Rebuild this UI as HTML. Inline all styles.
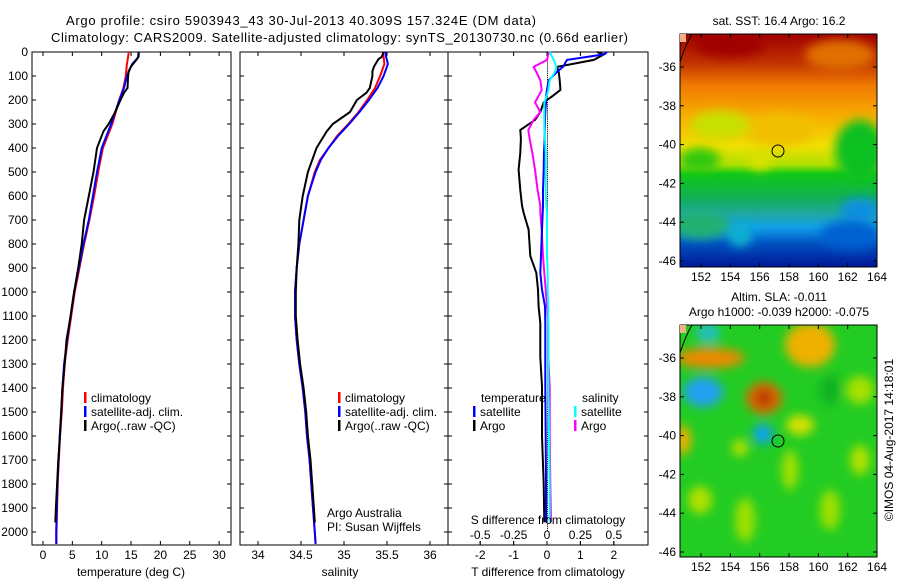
<!DOCTYPE html>
<html><head><meta charset="utf-8"><style>
html,body{margin:0;padding:0;background:#fff;}
svg{display:block;font-family:"Liberation Sans",sans-serif;}
text{fill:#000;}
</style></head><body>
<svg id="fig" width="900" height="580" viewBox="0 0 900 580" xmlns="http://www.w3.org/2000/svg">
<defs>
<linearGradient id="sstg" x1="0" y1="0" x2="0" y2="1">
<stop offset="0" stop-color="#a00000"/><stop offset="0.12" stop-color="#c03000"/><stop offset="0.22" stop-color="#f07a00"/>
<stop offset="0.36" stop-color="#f8b000"/><stop offset="0.48" stop-color="#f0e000"/><stop offset="0.56" stop-color="#b0e000"/>
<stop offset="0.6" stop-color="#10c818"/><stop offset="0.7" stop-color="#10b050"/><stop offset="0.77" stop-color="#20a8a0"/>
<stop offset="0.83" stop-color="#10a0e8"/><stop offset="0.9" stop-color="#0050c0"/><stop offset="1" stop-color="#001898"/></linearGradient>
<filter id="bl" x="-50%" y="-50%" width="200%" height="200%"><feGaussianBlur stdDeviation="5"/></filter>
<clipPath id="c1"><rect x="680" y="34" width="197" height="233"/></clipPath>
<clipPath id="c2"><rect x="680" y="325" width="197" height="232"/></clipPath>
</defs>
<text x="66" y="25" font-size="13" textLength="470">Argo profile: csiro 5903943_43 30-Jul-2013 40.309S 157.324E (DM data)</text>
<text x="51" y="42" font-size="13" textLength="577">Climatology: CARS2009. Satellite-adjusted climatology: synTS_20130730.nc (0.66d earlier)</text>
<g id="panels"></g>

<g>
<text x="779" y="25" font-size="12" text-anchor="middle">sat. SST: 16.4 Argo: 16.2</text>
<g clip-path="url(#c1)">
<rect x="680" y="34" width="197" height="233" fill="url(#sstg)"/>
<g filter="url(#bl)">
<ellipse cx="780" cy="130" rx="35" ry="16" fill="#f0c000"/>
<ellipse cx="720" cy="125" rx="30" ry="14" fill="#c8e000"/>
<ellipse cx="860" cy="150" rx="25" ry="30" fill="#10c020"/>
<ellipse cx="700" cy="160" rx="20" ry="12" fill="#30c810"/>
<ellipse cx="760" cy="160" rx="12" ry="10" fill="#d8e000"/>
<ellipse cx="700" cy="225" rx="30" ry="14" fill="#20b070"/>
<ellipse cx="850" cy="235" rx="30" ry="14" fill="#0060d0"/>
<ellipse cx="860" cy="210" rx="20" ry="12" fill="#1090e0"/>
<ellipse cx="740" cy="235" rx="12" ry="12" fill="#10b0d0"/>
<ellipse cx="730" cy="45" rx="35" ry="12" fill="#a00000"/>
<ellipse cx="840" cy="55" rx="35" ry="15" fill="#e07000"/>
</g></g>
<rect x="680" y="34" width="197" height="233" fill="none" stroke="#000"/>
<g id="map1ax"></g>
<circle cx="778" cy="151" r="6" fill="none" stroke="#000"/>
</g>

<g>
<text x="779" y="301" font-size="12" text-anchor="middle">Altim. SLA: -0.011</text>
<text x="779" y="316" font-size="12" text-anchor="middle">Argo h1000: -0.039 h2000: -0.075</text>
<g clip-path="url(#c2)">
<rect x="680" y="325" width="197" height="232" fill="#22cc22"/>
<g filter="url(#bl)">
<ellipse cx="810" cy="345" rx="25" ry="22" fill="#f0b000"/>
<ellipse cx="710" cy="358" rx="35" ry="10" fill="#ee8800"/>
<ellipse cx="703" cy="392" rx="20" ry="15" fill="#20a0f0"/>
<ellipse cx="764" cy="398" rx="18" ry="16" fill="#dd6600"/>
<ellipse cx="764" cy="398" rx="8" ry="8" fill="#b03000"/>
<ellipse cx="763" cy="434" rx="10" ry="10" fill="#10a0f0"/>
<ellipse cx="708" cy="333" rx="12" ry="10" fill="#20c0c0"/>
<ellipse cx="800" cy="425" rx="14" ry="10" fill="#d8e000"/>
<ellipse cx="683" cy="440" rx="8" ry="15" fill="#f0b000"/>
<ellipse cx="740" cy="448" rx="8" ry="8" fill="#c0e000"/>
<ellipse cx="860" cy="460" rx="10" ry="15" fill="#b0e000"/>
<ellipse cx="700" cy="500" rx="12" ry="14" fill="#b0e000"/>
<ellipse cx="745" cy="520" rx="10" ry="22" fill="#a0e000"/>
<ellipse cx="790" cy="470" rx="8" ry="20" fill="#a8e000"/>
<ellipse cx="830" cy="510" rx="10" ry="20" fill="#a0e000"/>
<ellipse cx="860" cy="390" rx="14" ry="14" fill="#a8e000"/>
<ellipse cx="830" cy="390" rx="10" ry="15" fill="#10b020"/>
</g></g>
<rect x="680" y="325" width="197" height="232" fill="none" stroke="#000"/>
<g id="map2ax"></g>
<circle cx="778" cy="441" r="6" fill="none" stroke="#000"/>
<text transform="translate(893,440) rotate(-90)" font-size="12" text-anchor="middle">©IMOS 04-Aug-2017 14:18:01</text>
</g>
</svg>
<script>
const depthTicks=[0,100,200,300,400,500,600,700,800,900,1000,1100,1200,1300,1400,1500,1600,1700,1800,1900,2000];
const tempTicks=[0,5,10,15,20,25,30];
const salTicks=[34,34.5,35,35.5,36];
const tdiffTicks=[-2,-1,0,1,2];
const sdiffTicks=[-0.5,-0.25,0,0.25,0.5];
const depthClim=[0,20,50,100,150,200,250,300,350,400,450,500,600,700,800,900,1000,1100,1200,1300,1400,1500,1600,1700,1800,1900,2000,2050];
const tempClim=[14.6,14.5,14.3,14.1,13.7,13.0,12.4,11.8,11.0,10.2,9.8,9.4,8.7,7.9,7.0,6.2,5.4,4.8,4.2,3.7,3.4,3.2,2.9,2.7,2.5,2.4,2.3,2.3];
const tempSat=[16.3,16.3,15.2,14.3,13.8,13.0,12.3,11.6,10.8,10.0,9.6,9.2,8.5,7.8,6.9,6.1,5.3,4.7,4.1,3.6,3.3,3.1,2.85,2.65,2.45,2.35,2.25,2.25];
const salClim=[35.45,35.46,35.47,35.42,35.36,35.27,35.17,35.05,34.92,34.82,34.72,34.66,34.58,34.53,34.48,34.45,34.43,34.43,34.45,34.48,34.52,34.55,34.57,34.60,34.62,34.64,34.66,34.67];
const salSat=[35.48,35.49,35.51,35.46,35.39,35.29,35.18,35.06,34.93,34.82,34.73,34.67,34.58,34.53,34.48,34.45,34.43,34.43,34.45,34.48,34.52,34.55,34.57,34.60,34.62,34.64,34.66,34.67];
const depthArgo=[0,20,30,60,80,100,150,170,200,250,300,330,400,500,600,700,800,900,1000,1100,1200,1300,1400,1500,1600,1700,1800,1900,1960];
const tempArgo=[16.3,16.2,16.0,15.0,14.6,14.5,14.4,13.8,13.2,12.3,11.2,10.3,9.2,8.6,7.8,7.0,6.6,6.0,5.3,4.7,4.0,3.7,3.3,3.1,2.9,2.6,2.4,2.2,2.1];
const salArgo=[35.46,35.44,35.40,35.35,35.33,35.33,35.30,35.26,35.15,35.07,34.87,34.80,34.68,34.58,34.52,34.48,34.47,34.45,34.44,34.44,34.46,34.49,34.53,34.56,34.58,34.61,34.63,34.65,34.66];
const depthDiff=[0,10,33,62,83,118,158,180,210,250,283,325,360,420,490,575,640,670,740,850,920,990,1060,1130,1270,1395,1600,1800,1960];
const tdiffArgo=[1.5,1.7,1.4,0.3,0.35,0.38,0.4,0.2,-0.1,-0.2,-0.36,-0.8,-0.78,-0.8,-0.85,-0.8,-0.75,-0.7,-0.55,-0.5,-0.32,-0.27,-0.25,-0.2,-0.2,-0.15,-0.15,-0.1,-0.08];
const tdiffSat=[1.8,1.7,0.6,0.48,0.3,0.05,0.0,-0.02,-0.03,-0.05,-0.06,-0.07,-0.07,-0.09,-0.1,-0.12,-0.12,-0.13,-0.15,-0.18,-0.2,-0.15,-0.06,-0.05,-0.05,-0.05,-0.04,-0.03,-0.03];
const sdiffArgo=[0.02,0.01,0.0,-0.1,-0.08,-0.05,-0.04,-0.06,-0.09,-0.05,-0.1,-0.14,-0.13,-0.11,-0.09,-0.07,-0.05,-0.05,-0.04,-0.03,-0.02,-0.01,0.0,0.01,0.01,0.02,0.02,0.025,0.03];
const sdiffSat=[0.02,0.03,0.05,0.07,0.06,0.02,0.01,0.0,-0.02,-0.02,-0.02,-0.02,-0.015,-0.01,-0.01,-0.01,-0.005,0,0,0,0.005,0.005,0.01,0.01,0.01,0.01,0.015,0.02,0.02];
const latTicks=[-36,-38,-40,-42,-44,-46];
const lonTicks=[152,154,156,158,160,162,164];

const NS="http://www.w3.org/2000/svg";
const root=document.getElementById('panels');
function mk(tag,attrs,parent){const e=document.createElementNS(NS,tag);for(const k in attrs)e.setAttribute(k,attrs[k]);(parent||root).appendChild(e);return e;}
const Y0=52,PX=0.24;
const yD=d=>Y0+d*PX;
const xT=t=>43+t*5.87;
const xS=s=>258+(s-34)*86;
const xTd=t=>547+t*33.4;
const xSd=s=>547+s*133.6;

function line(xs,ds,xf,color,name){
  let pts=[];for(let i=0;i<xs.length;i++){pts.push(xf(xs[i]).toFixed(1)+','+yD(ds[i]).toFixed(1));}
  const p=mk('polyline',{points:pts.join(' '),fill:'none',stroke:color,'stroke-width':2,'stroke-linejoin':'miter'});
  
  
}
function box(x0,x1,name){
  const r=mk('rect',{x:x0,y:52,width:x1-x0,height:493,fill:'none',stroke:'#000'});
  
  
  depthTicks.forEach(d=>{mk('line',{x1:x0,x2:x0+4,y1:yD(d),y2:yD(d),stroke:'#000'});mk('line',{x1:x1,x2:x1-4,y1:yD(d),y2:yD(d),stroke:'#000'});});
}
function xticks(vals,xf,x0,x1,labelY,fmt){
  vals.forEach(v=>{const x=xf(v);mk('line',{x1:x,x2:x,y1:545,y2:541,stroke:'#000'});mk('line',{x1:x,x2:x,y1:52,y2:56,stroke:'#000'});
    const t=mk('text',{x:x,y:labelY,'font-size':12,'text-anchor':'middle'});t.textContent=fmt?fmt(v):String(v);
    
    });
}
function legend(x,y,color,label){
  mk('rect',{x:x,y:y-10,width:2.5,height:11,fill:color});
  const t=mk('text',{x:x+7,y:y,'font-size':12});t.textContent=label;
  
  
}
function txt(x,y,s,name,anchor){const t=mk('text',{x:x,y:y,'font-size':12,'text-anchor':anchor||'start'});t.textContent=s;
  
  return t;}

depthTicks.forEach(d=>{const t=mk('text',{x:28,y:yD(d)+4,'font-size':12,'text-anchor':'end'});t.textContent=d;
  
  });

box(32,231,'temperature-panel');
xticks(tempTicks,xT,32,231,559);
line(tempClim,depthClim,xT,'#ff0000','temp-climatology-line');
line(tempSat,depthClim,xT,'#0000ff','temp-satellite-line');
line(tempArgo,depthArgo,xT,'#000000','temp-argo-line');
txt(131,576,'temperature (deg C)','temperature-axis-title','middle');
legend(84,402,'#ff0000','climatology');legend(84,416,'#0000ff','satellite-adj. clim.');legend(84,430,'#000000','Argo(..raw -QC)');

box(240,448,'salinity-panel');
xticks(salTicks,xS,240,448,559);
line(salClim,depthClim,xS,'#ff0000','sal-climatology-line');
line(salSat,depthClim,xS,'#0000ff','sal-satellite-line');
line(salArgo,depthArgo,xS,'#000000','sal-argo-line');
txt(340,576,'salinity','salinity-axis-title','middle');
legend(338,402,'#ff0000','climatology');legend(338,416,'#0000ff','satellite-adj. clim.');legend(338,430,'#000000','Argo(..raw -QC)');
txt(327,517,'Argo Australia','credit-line-1');txt(327,531,'PI: Susan Wijffels','credit-line-2');

box(448,648,'difference-panel');
xticks(tdiffTicks,xTd,448,648,559);
sdiffTicks.forEach(v=>{const x=xSd(v);mk('line',{x1:x,x2:x,y1:545,y2:541,stroke:'#000'});
  const t=mk('text',{x:x,y:539,'font-size':12,'text-anchor':'middle'});t.textContent=String(v);
  
  });
for(let d=0;d<2000;d+=8){mk('rect',{x:547,y:yD(d),width:1,height:1,fill:'#000'});}
line(tdiffArgo,depthDiff,xTd,'#000000','tdiff-argo-line');
line(sdiffArgo,depthDiff,xSd,'#ff00ff','sdiff-argo-line');
line(tdiffSat,depthDiff,xTd,'#0000ff','tdiff-satellite-line');
line(sdiffSat,depthDiff,xSd,'#00ffff','sdiff-satellite-line');
txt(548,524,'S difference from climatology','s-diff-axis-title','middle');
txt(548,576,'T difference from climatology','t-diff-axis-title','middle');
txt(481,402,'temperature','legend-temperature-header');
txt(582,402,'salinity','legend-salinity-header');
legend(473,416,'#0000ff','satellite');legend(473,430,'#000000','Argo');
legend(574,416,'#00ffff','satellite');legend(574,430,'#ff00ff','Argo');

function mapAxes(gid,top,bot,lat36){
  const g=document.getElementById(gid);
  latTicks.forEach(l=>{const y=lat36+(-36-l)*19.4;
    mk('line',{x1:877,x2:873,y1:y,y2:y,stroke:'#000'},g);mk('line',{x1:680,x2:684,y1:y,y2:y,stroke:'#000'},g);
    const t=mk('text',{x:676,y:y+4,'font-size':12,'text-anchor':'end'},g);t.textContent=l;
    
    });
  lonTicks.forEach(l=>{const x=701+(l-152)*14.67;
    mk('line',{x1:x,x2:x,y1:bot,y2:bot-4,stroke:'#000'},g);mk('line',{x1:x,x2:x,y1:top,y2:top+4,stroke:'#000'},g);
    const t=mk('text',{x:x,y:bot+14,'font-size':12,'text-anchor':'middle'},g);t.textContent=l;
    
    });
  mk('path',{d:`M680,${top+28} Q686,${top+10} 692,${top}`,fill:'none',stroke:'#000'},g);
  mk('rect',{x:680,y:top,width:6,height:8,fill:'#f4b080'},g);
}
mapAxes('map1ax',34,267,67);
mapAxes('map2ax',325,557,358);
</script>
</body></html>
